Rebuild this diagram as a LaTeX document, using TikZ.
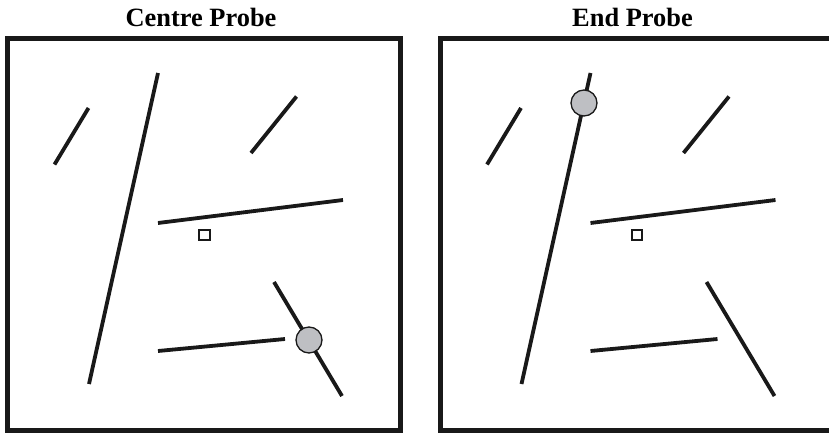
\documentclass[tikz,border=0pt]{standalone}
\usepackage{fontspec}
\setmainfont{Liberation Serif}
\definecolor{probegray}{RGB}{190,191,195}
\tikzset{
  frame/.style={line width=5pt, draw=black!90},
  seg/.style={line width=3.8pt, draw=black!90},
  probe/.style={circle, draw=black!90, line width=1.3pt, fill=probegray, minimum size=26pt, inner sep=0pt},
  target/.style={rectangle, draw=black!90, line width=1.6pt, fill=white, minimum size=10.5pt, inner sep=0pt},
  title/.style={font=\fontsize{26.4pt}{30pt}\selectfont\bfseries, anchor=base, inner sep=0pt}
}
\begin{document}
\begin{tikzpicture}[x=1pt,y=-1pt]
\useasboundingbox (0,0) rectangle (829,433);
\clip (0,0) rectangle (829,433);
% titles
\node[title] (t1) at (201,27) {Centre Probe};
\node[title] (t2) at (632.5,27) {End Probe};
% left panel
\draw[frame] (7,38.5) rectangle (400.5,430.5);
\draw[seg] (88.5,108) -- (54.5,164.5);
\draw[seg] (158,73) -- (89,384);
\draw[seg] (296.5,96.5) -- (251,153);
\draw[seg] (158,223) -- (343,200);
\draw[seg] (158,351) -- (285,339);
\draw[seg] (274,282) -- (342,396);
\node[target] (sq1) at (204.5,235) {};
\node[probe] (p1) at (309,340) {};
% right panel
\begin{scope}[xshift=432.5pt]
\draw[frame] (7.5,38.5) rectangle (401,430.5);
\draw[seg] (88.5,108) -- (54.5,164.5);
\draw[seg] (158,73) -- (89,384);
\draw[seg] (296.5,96.5) -- (251,153);
\draw[seg] (158,223) -- (343,200);
\draw[seg] (158,351) -- (285,339);
\draw[seg] (274,282) -- (342,396);
\node[target] (sq2) at (204.5,235) {};
\node[probe] (p2) at (151.5,103) {};
\end{scope}
\end{tikzpicture}
\end{document}
